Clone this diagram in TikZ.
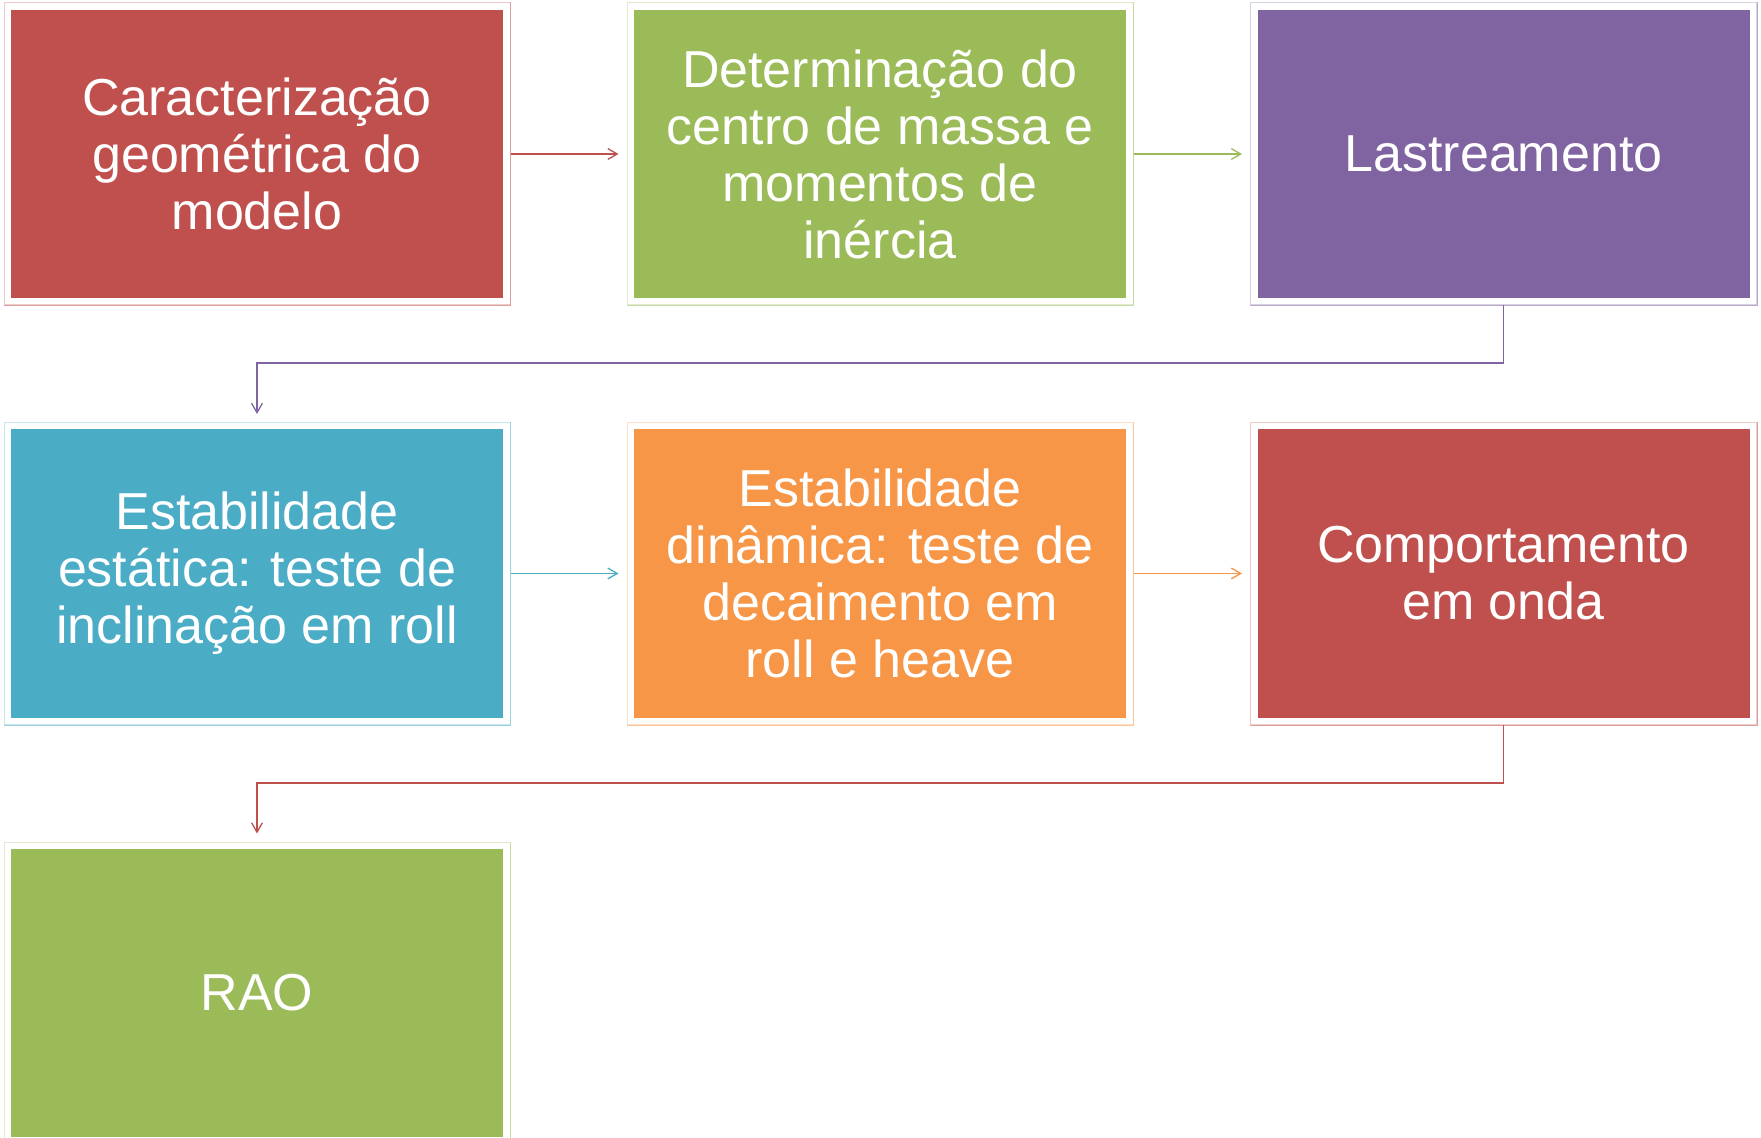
\documentclass[tikz,border=0pt]{standalone}
\usepackage{fontspec}
\setmainfont{Liberation Sans}
\usetikzlibrary{arrows.meta}
\definecolor{cred}{HTML}{C0504D}
\definecolor{cgreen}{HTML}{9BBB59}
\definecolor{cpurple}{HTML}{8064A2}
\definecolor{cblue}{HTML}{4BACC6}
\definecolor{corange}{HTML}{F79646}
\begin{document}
\begin{tikzpicture}[x=0.5pt,y=-0.5pt,
  fillbox/.style={fill=#1, draw=none, minimum width=246pt, minimum height=144pt,
    inner sep=0pt, text=white, align=center, font=\fontsize{26}{28.5}\selectfont},
  framebox/.style={draw=#1!30, line width=0.5pt, minimum width=253pt,
    minimum height=151pt, inner sep=0pt},
  arr/.style={draw=#1, line width=0.65pt,
    -{Straight Barb[length=4.7pt,width=5.4pt]}, shorten >=4pt},
]
\useasboundingbox (0,0) rectangle (1761,1138);
\fill[white] (0,0) rectangle (1761,1138);
\clip (0,0) rectangle (1761,1138);

% frames
\node[framebox=cred]    (f1) at (257,154) {};
\node[framebox=cgreen]  (f2) at (880,154) {};
\node[framebox=cpurple] (f3) at (1503.5,154) {};
\node[framebox=cblue]   (f4) at (257,573.5) {};
\node[framebox=corange] (f5) at (880,573.5) {};
\node[framebox=cred]    (f6) at (1503.5,573.5) {};
\node[framebox=cgreen]  (f7) at (257,993) {};
\foreach \n/\c in {f1/cred,f2/cgreen,f3/cpurple,f4/cblue,f5/corange,f6/cred,f7/cgreen}{
  \draw[\c!55, line width=0.5pt] (\n.north east) -- (\n.south east) -- (\n.south west);
}

% filled boxes
\node[fillbox=cred]    (b1) at (f1) {Caracterização\\geométrica do\\modelo};
\node[fillbox=cgreen]  (b2) at (f2) {Determinação do\\centro de massa e\\momentos de\\inércia};
\node[fillbox=cpurple] (b3) at (f3) {Lastreamento};
\node[fillbox=cblue]   (b4) at (f4) {Estabilidade\\estática: teste de\\inclinação em roll};
\node[fillbox=corange] (b5) at (f5) {Estabilidade\\dinâmica: teste de\\decaimento em\\roll e heave};
\node[fillbox=cred]    (b6) at (f6) {Comportamento\\em onda};
\node[fillbox=cgreen]  (b7) at (f7) {RAO};

% connectors
\coordinate (k1) at (900,363);
\coordinate (k2) at (900,783);
\draw[arr=cred]    (f1.east) -- (f2.west);
\draw[arr=cgreen]  (f2.east) -- (f3.west);
\draw[arr=cpurple] (f3.south) |- (k1) -| (f4.north);
\draw[arr=cblue]   (f4.east) -- (f5.west);
\draw[arr=corange] (f5.east) -- (f6.west);
\draw[arr=cred]    (f6.south) |- (k2) -| (f7.north);
\end{tikzpicture}
\end{document}
